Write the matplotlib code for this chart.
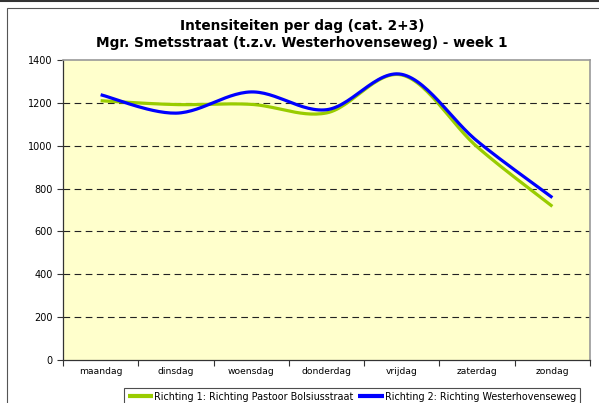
import numpy as np
import matplotlib.pyplot as plt
from matplotlib.patches import Rectangle
from matplotlib.lines import Line2D

# data
days = ["maandag", "dinsdag", "woensdag", "donderdag", "vrijdag", "zaterdag", "zondag"]
richting1 = [1210, 1192, 1193, 1153, 1330, 995, 717]
richting2 = [1238, 1152, 1251, 1168, 1333, 1022, 758]
label1 = "Richting 1: Richting Pastoor Bolsiusstraat"
label2 = "Richting 2: Richting Westerhovenseweg"
title = "Intensiteiten per dag (cat. 2+3)\nMgr. Smetsstraat (t.z.v. Westerhovenseweg) - week 1"


# Excel-style smoothed line (cubic Bezier through points, Catmull-Rom tangents)
def smooth(x, y, n=30):
    x = np.asarray(x, float)
    y = np.asarray(y, float)
    px = np.concatenate([[x[0]], x, [x[-1]]])
    py = np.concatenate([[y[0]], y, [y[-1]]])
    xs, ys = [], []
    t = np.linspace(0, 1, n)
    for i in range(1, len(x)):
        p0 = np.array([px[i], py[i]])
        p3 = np.array([px[i + 1], py[i + 1]])
        c1 = p0 + (np.array([px[i + 1], py[i + 1]]) - np.array([px[i - 1], py[i - 1]])) / 6
        c2 = p3 - (np.array([px[i + 2], py[i + 2]]) - np.array([px[i], py[i]])) / 6
        pts = ((1 - t) ** 3)[:, None] * p0 + (3 * (1 - t) ** 2 * t)[:, None] * c1 \
            + (3 * (1 - t) * t ** 2)[:, None] * c2 + (t ** 3)[:, None] * p3
        xs.extend(pts[:, 0])
        ys.extend(pts[:, 1])
    return np.array(xs), np.array(ys)


fig = plt.figure(figsize=(5.99, 4.03), dpi=100)
fig.patch.set_facecolor("white")

# outer frames
fig.add_artist(Line2D([0, 1], [0.997, 0.997], color="#333333", lw=1.5, transform=fig.transFigure))
fig.add_artist(Rectangle((7 / 599, -0.05), 1.1, (403 - 8) / 403 + 0.05, transform=fig.transFigure,
                         fill=False, edgecolor="#555555", lw=0.8))

ax = fig.add_axes([63 / 599, 43 / 403, 527 / 599, 300 / 403])
ax.set_facecolor("#FFFFCC")

xpos = np.arange(len(days))
sx, sy = smooth(xpos, richting1)
ax.plot(sx, sy, color="#99CC00", lw=2.3, label=label1, solid_capstyle="butt")
sx, sy = smooth(xpos, richting2)
ax.plot(sx, sy, color="#0000FF", lw=2.3, label=label2, solid_capstyle="butt")

ax.set_xlim(-0.5, len(days) - 0.5)
ax.set_ylim(0, 1400)
ax.set_yticks(range(0, 1401, 200))
ax.set_xticks(np.arange(-0.5, len(days), 1))
ax.set_xticklabels([])
ax.set_xticks(xpos, minor=True)
ax.set_xticklabels(days, minor=True)
ax.tick_params(axis="x", which="minor", length=0, labelsize=6.6, pad=5)
ax.tick_params(axis="x", which="major", length=4, direction="out", color="#333333")
ax.tick_params(axis="y", length=4, direction="out", labelsize=7, color="#333333")

for v in range(200, 1400, 200):
    ax.axhline(v, color="#222222", lw=0.8, dashes=(6, 4), zorder=0.5)

for side in ["top", "right"]:
    ax.spines[side].set_color("#999999")
    ax.spines[side].set_linewidth(1.2)
for side in ["left", "bottom"]:
    ax.spines[side].set_color("#333333")
    ax.spines[side].set_linewidth(0.9)

fig.text(302 / 599, 1 - 34.5 / 403, title, ha="center", va="center", fontsize=9.8,
         fontweight="bold", linespacing=1.3)

leg = fig.legend(loc="upper center", bbox_to_anchor=(352 / 599, 15 / 403), ncol=2,
                 fontsize=6.9, frameon=True, fancybox=False, handlelength=2.7,
                 handletextpad=0.1, columnspacing=0.5, borderpad=0.4, borderaxespad=0)
leg.get_frame().set_edgecolor("#222222")
leg.get_frame().set_linewidth(0.8)
for h in leg.get_lines():
    h.set_linewidth(3)

fig.savefig("out.png", dpi=100)
